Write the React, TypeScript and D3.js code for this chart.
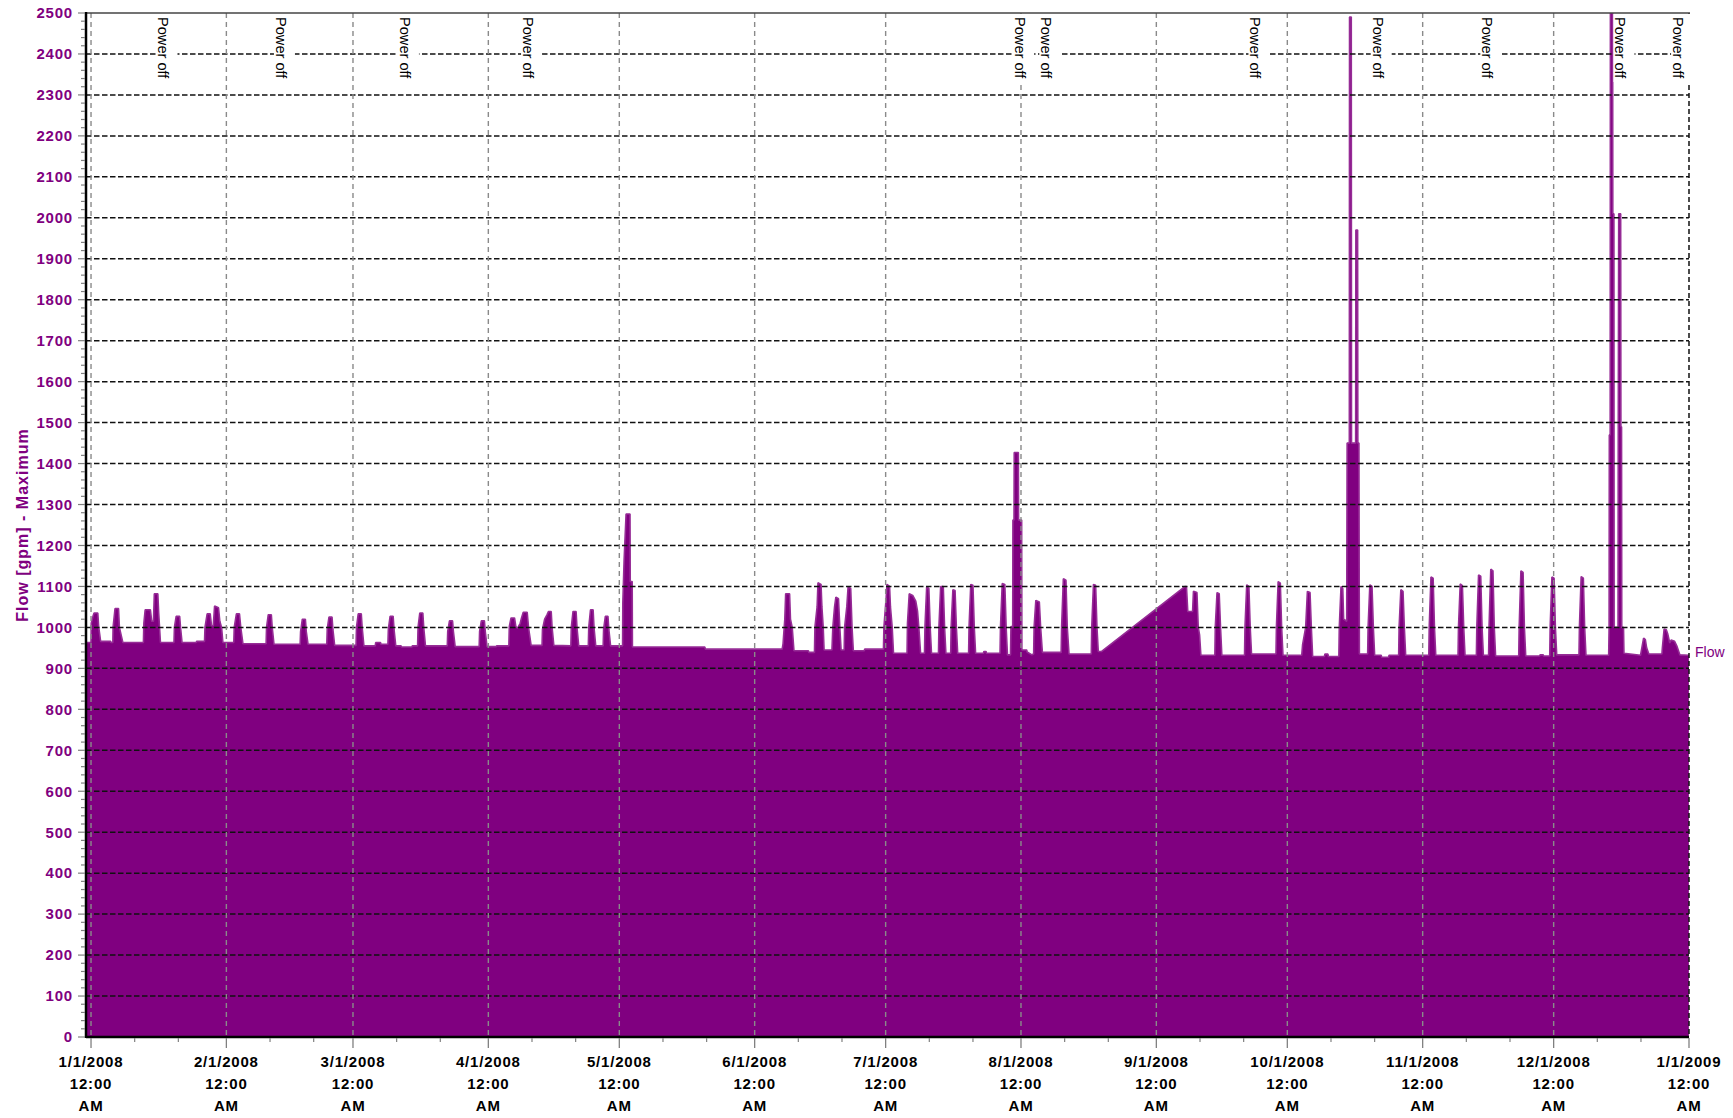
import React from "react";
import * as d3 from "d3";

// Flow [gpm] max, as [day since 1/1/2008, value]
const janFlow: [number, number][] = [
  [-1.15, 963], [0.0, 963], [0.05, 1010], [0.45, 1027], [0.7, 1035], [1.55, 1035], [1.75, 1002], [2.2, 966],
  [4.5, 966], [4.55, 963], [5.0, 963], [5.05, 1000], [5.5, 1046], [6.3, 1046], [6.5, 1000], [7.3, 963],
  [12.0, 963], [12.1, 1010], [12.4, 1043], [13.6, 1043], [13.9, 1015], [14.3, 1015], [14.5, 1082], [15.3, 1082], [15.5, 1035], [15.9, 963],
  [19.0, 963], [19.1, 1000], [19.5, 1027], [20.3, 1027], [20.5, 1000], [20.85, 963],
  [24.1, 963], [24.2, 966], [26.0, 966], [26.1, 1000], [26.6, 1033], [27.3, 1033], [27.6, 1004], [28.0, 1004],
  [28.3, 1052], [29.2, 1048], [29.5, 1015], [29.9, 1000], [30.2, 963],
];
const febFlow: [number, number][] = [
  [32.7, 963], [32.8, 1000], [33.3, 1033], [34.0, 1033], [34.3, 1000], [34.8, 960],
  [40.1, 960], [40.2, 1000], [40.6, 1031], [41.3, 1031], [41.5, 1000], [41.9, 959],
  [47.9, 959], [48.0, 990], [48.4, 1020], [49.1, 1020], [49.3, 990], [49.7, 959],
  [54.0, 959], [54.1, 995], [54.5, 1025], [55.2, 1025], [55.4, 995], [55.8, 956],
];
const marFlow: [number, number][] = [
  [60.7, 956], [60.8, 1000], [61.2, 1033], [61.9, 1033], [62.1, 1000], [62.5, 955],
  [65.1, 955], [65.2, 963], [66.3, 963], [66.4, 959],
  [68.0, 959], [68.1, 995], [68.5, 1027], [69.2, 1027], [69.4, 995], [69.8, 955],
  [71.0, 955], [71.1, 952], [73.5, 952], [73.6, 955],
  [74.8, 955], [74.9, 1000], [75.3, 1035], [76.0, 1035], [76.2, 1000], [76.6, 955],
  [81.6, 955], [81.7, 990], [82.1, 1016], [82.8, 1016], [83.0, 990], [83.4, 953],
  [88.9, 953], [89.0, 990], [89.4, 1016], [90.1, 1016], [90.3, 990], [90.7, 953],
];
const aprFlow: [number, number][] = [
  [92.8, 953], [92.9, 955],
  [95.7, 955], [95.8, 1002], [96.2, 1023], [97.0, 1023], [97.3, 1002], [97.7, 998], [98.3, 1010], [98.6, 1023],
  [99.0, 1037], [99.9, 1037], [100.2, 1000], [100.8, 956],
  [103.3, 956], [103.4, 995], [103.9, 1020], [104.4, 1030], [104.8, 1039], [105.4, 1039], [105.6, 1000], [106.0, 956],
  [109.9, 955], [110.0, 1000], [110.4, 1039], [111.1, 1039], [111.3, 1000], [111.7, 955],
  [113.9, 955], [114.0, 1000], [114.4, 1043], [115.0, 1043], [115.2, 1000], [115.6, 955],
  [117.3, 955], [117.4, 995], [117.8, 1027], [118.4, 1027], [118.6, 995], [119.0, 955],
];
const mayFlow: [number, number][] = [
  [121.75, 955], [121.8, 1059], [122.1, 1165], [122.55, 1277], [123.45, 1277], [123.5, 1112], [123.95, 1112], [124.0, 952],
  [140.6, 952], [140.7, 947], [158.3, 947],
];
const junFlow: [number, number][] = [
  [158.5, 960], [158.9, 1020], [159.1, 1082], [160.0, 1082], [160.2, 1020], [160.6, 1000], [161.0, 943],
  [164.3, 943], [164.4, 939], [165.7, 939], [165.8, 1000], [166.3, 1050], [166.5, 1109], [167.2, 1105], [167.4, 1050], [167.7, 1000], [167.9, 945],
  [169.7, 945], [169.9, 1000], [170.3, 1050], [170.6, 1074], [171.2, 1070], [171.5, 1000], [171.8, 945],
  [172.5, 945], [172.6, 1000], [173.1, 1050], [173.4, 1099], [174.0, 1095], [174.3, 1000], [174.6, 943],
  [177.1, 943], [177.2, 947], [181.5, 947],
];
const julFlow: [number, number][] = [
  [181.6, 1000], [182.1, 1070], [182.3, 1105], [182.9, 1100], [183.1, 1050], [183.5, 1000], [183.8, 937],
  [186.9, 937], [187.0, 1010], [187.4, 1082], [188.2, 1078], [188.9, 1064], [189.3, 1040], [189.6, 1000], [190.0, 937],
  [190.9, 937], [191.0, 1000], [191.4, 1099], [191.9, 1095], [192.2, 1000], [192.5, 937],
  [194.1, 937], [194.2, 1000], [194.6, 1100], [195.2, 1100], [195.5, 1000], [195.8, 937],
  [196.9, 937], [197.0, 1000], [197.4, 1092], [197.9, 1090], [198.2, 1000], [198.5, 937],
  [201.0, 937], [201.1, 1000], [201.5, 1105], [202.0, 1103], [202.3, 1000], [202.6, 937],
  [204.4, 937], [204.5, 941], [205.0, 941], [205.1, 937],
  [208.2, 937], [208.3, 1000], [208.7, 1107], [209.3, 1105], [209.6, 1000], [209.9, 933],
  [210.6, 933], [210.7, 1002], [211.1, 1002], [211.15, 1262], [211.4, 1262], [211.45, 1427], [212.4, 1427],
  [212.45, 1262], [213.15, 1262], [213.2, 945],
];
const augFlow: [number, number][] = [
  [214.3, 945], [214.4, 940], [215.5, 933],
  [215.9, 935], [216.0, 1000], [216.4, 1066], [217.2, 1062], [217.5, 1000], [217.9, 939],
  [222.2, 939], [222.3, 1000], [222.7, 1119], [223.3, 1115], [223.6, 1000], [224.0, 935],
  [229.1, 935], [229.2, 1000], [229.6, 1105], [230.1, 1103], [230.4, 1000], [230.7, 941],
  [231.4, 941], [250.6, 1100],
];
const sepFlow: [number, number][] = [
  [250.9, 1100], [251.2, 1039], [252.3, 1039], [252.5, 1088], [253.3, 1085], [253.6, 1000], [253.9, 982], [254.2, 932],
  [257.4, 932], [257.5, 1000], [257.9, 1085], [258.4, 1082], [258.7, 1000], [259.0, 932],
  [264.2, 932], [264.3, 1000], [264.7, 1104], [265.2, 1100], [265.5, 1000], [265.8, 935],
  [271.4, 935], [271.5, 1000], [271.9, 1112], [272.4, 1108], [272.7, 1000], [273.0, 932],
];
const octFlow: [number, number][] = [
  [277.3, 932], [277.5, 958], [278.2, 1000], [278.6, 1088], [279.2, 1085], [279.5, 1000], [279.8, 929],
  [282.5, 929], [282.6, 935], [283.3, 935], [283.4, 929],
  [285.8, 929], [285.9, 1000], [286.3, 1100], [286.7, 1095], [286.9, 1020], [287.6, 1015],
  [287.7, 1450], [288.2, 1450], [288.25, 2490], [288.65, 2490], [288.7, 1450], [289.65, 1450], [289.7, 1970],
  [290.1, 1970], [290.15, 1450], [290.4, 1450], [290.5, 935],
  [292.4, 935], [292.5, 1000], [292.9, 1104], [293.4, 1100], [293.7, 1000], [294.0, 932],
  [295.5, 932], [295.6, 927], [297.2, 927], [297.3, 932],
  [299.5, 932], [299.6, 1000], [300.0, 1092], [300.5, 1088], [300.8, 1000], [301.1, 932],
];
const novFlow: [number, number][] = [
  [306.4, 932], [306.5, 1000], [306.9, 1123], [307.4, 1120], [307.7, 1000], [308.0, 932],
  [313.1, 932], [313.2, 1000], [313.6, 1106], [314.1, 1102], [314.4, 1000], [314.7, 932],
  [317.3, 932], [317.4, 1000], [317.8, 1128], [318.3, 1125], [318.6, 1000], [318.9, 932],
  [320.1, 932], [320.2, 1000], [320.6, 1142], [321.1, 1138], [321.4, 1000], [321.7, 930],
  [327.0, 930], [327.1, 1000], [327.5, 1138], [328.0, 1134], [328.3, 1000], [328.6, 930],
  [331.8, 930], [331.9, 933], [332.6, 933], [332.7, 930],
];
const decFlow: [number, number][] = [
  [334.1, 930], [334.2, 1000], [334.6, 1123], [335.1, 1120], [335.4, 1000], [335.7, 933],
  [340.8, 933], [340.9, 1000], [341.3, 1124], [341.8, 1120], [342.1, 1000], [342.4, 932],
  [347.6, 932], [347.7, 1000], [347.75, 1470], [347.95, 1470], [348.0, 2600], [348.5, 2600], [348.55, 2010],
  [348.8, 2010], [348.85, 1000], [349.75, 1000], [349.8, 1490], [349.9, 2010], [350.35, 2010], [350.4, 1490],
  [350.55, 1490], [350.6, 1000], [351.0, 1000], [351.1, 937],
  [354.9, 932], [355.2, 950], [355.6, 974], [356.0, 970], [356.3, 950], [356.8, 935],
  [359.8, 935], [359.9, 950], [360.3, 996], [360.8, 994], [361.1, 985], [361.6, 962], [361.9, 969],
  [362.7, 966], [363.2, 955], [363.9, 933], [366.0, 932],
];

// "Power off" annotations, day since 1/1/2008
const powerOffDays = [16.6, 43.5, 71.9, 100.1, 212.8, 218.8, 266.7, 294.7, 319.8, 350.3, 363.5];

const yTickValues = d3.range(0, 2501, 100);
const yMinorValues = d3.range(0, 2501, 20);

const W = 1733;
const H = 1118;
const LEFT = 86;
const RIGHT = 1689;
const TOP = 13;
const BOTTOM = 1037;
const PURPLE = "#800080";
const FONT = '"Liberation Sans", Arial, Helvetica, sans-serif';

const t0 = new Date(2008, 0, 1).getTime();
const toDate = (d: number) => new Date(t0 + d * 864e5);

export default function App() {
  const flow = [
    ...janFlow, ...febFlow, ...marFlow, ...aprFlow, ...mayFlow, ...junFlow,
    ...julFlow, ...augFlow, ...sepFlow, ...octFlow, ...novFlow, ...decFlow,
  ];

  const x = d3.scaleTime().domain([toDate(-1.15), new Date(2009, 0, 1)]).range([LEFT, RIGHT]);
  const y = d3.scaleLinear().domain([0, 2500]).range([BOTTOM, TOP]);

  const area = d3
    .area<[number, number]>()
    .x((d) => x(toDate(d[0])))
    .y0(y(0))
    .y1((d) => y(d[1]));

  const months = d3.timeMonth.range(new Date(2008, 0, 1), new Date(2009, 0, 2));
  const minorDays = d3.timeMonth
    .range(new Date(2008, 0, 1), new Date(2009, 0, 1))
    .flatMap((m) => [d3.timeDay.offset(m, 10), d3.timeDay.offset(m, 20)]);
  const fmtDate = d3.timeFormat("%-m/%-d/%Y");
  const lastVal = flow[flow.length - 1][1];

  return (
    <svg
      width={W}
      height={H}
      style={{ position: "absolute", left: 0, top: 0, background: "#fff" }}
      fontFamily={FONT}
    >
      <defs>
        <clipPath id="plot">
          <rect x={LEFT} y={TOP} width={RIGHT - LEFT} height={BOTTOM - TOP} />
        </clipPath>
      </defs>

      <path
        d={area(flow) ?? ""}
        fill={PURPLE}
        stroke="#962c96"
        strokeWidth={1.6}
        strokeLinejoin="bevel"
        clipPath="url(#plot)"
      />

      {/* horizontal grid */}
      {yTickValues
        .filter((v) => v > 0 && v < 2500)
        .map((v) => (
          <line
            key={"h" + v}
            x1={LEFT}
            x2={RIGHT}
            y1={y(v)}
            y2={y(v)}
            stroke="#111"
            strokeWidth={1.5}
            strokeDasharray="5.5 2.5"
          />
        ))}

      {/* vertical grid */}
      {months.slice(0, -1).map((m) => (
        <line
          key={"v" + m.getTime()}
          x1={x(m)}
          x2={x(m)}
          y1={TOP}
          y2={BOTTOM}
          stroke="#8a8a8a"
          strokeWidth={1.4}
          strokeDasharray="5 4"
        />
      ))}
      <line x1={RIGHT} x2={RIGHT} y1={TOP} y2={BOTTOM} stroke="#111" strokeWidth={1.5} strokeDasharray="5 3" />

      {/* power off notes */}
      {powerOffDays.map((d, i) => {
        const cx = x(toDate(d));
        return (
          <g key={"p" + i}>
            <rect x={cx - 7} y={TOP + 1} width={21} height={68} fill="#fff" />
            <text
              transform={`translate(${cx - 5},17) rotate(90)`}
              fontSize={14.6}
              fill="#000"
            >
              Power off
            </text>
          </g>
        );
      })}

      {/* frame */}
      <line x1={LEFT} x2={RIGHT + 1} y1={TOP} y2={TOP} stroke="#444" strokeWidth={1.5} />
      <line x1={LEFT} x2={LEFT} y1={TOP - 1} y2={BOTTOM + 1} stroke="#000" strokeWidth={2.5} />
      <line x1={LEFT} x2={RIGHT} y1={BOTTOM} y2={BOTTOM} stroke="#000" strokeWidth={2.5} />

      {/* y axis */}
      {yMinorValues.map((v) => (
        <line
          key={"ym" + v}
          x1={v % 100 === 0 ? 78 : 81}
          x2={LEFT - 1}
          y1={y(v)}
          y2={y(v)}
          stroke="#808080"
          strokeWidth={1.2}
        />
      ))}
      {yTickValues.map((v) => (
        <text
          key={"yl" + v}
          x={73}
          y={y(v) + 5.3}
          textAnchor="end"
          fontSize={15}
          fontWeight="bold"
          letterSpacing={0.8}
          fill={PURPLE}
        >
          {v}
        </text>
      ))}
      <text
        transform="translate(28,525) rotate(-90)"
        textAnchor="middle"
        fontSize={16}
        fontWeight="bold"
        letterSpacing={1}
        fill={PURPLE}
      >
        Flow [gpm] - Maximum
      </text>

      {/* x axis */}
      {minorDays.map((m) => (
        <line
          key={"xm" + m.getTime()}
          x1={x(m)}
          x2={x(m)}
          y1={BOTTOM + 1}
          y2={BOTTOM + 5}
          stroke="#808080"
          strokeWidth={1.2}
        />
      ))}
      {months.map((m) => (
        <g key={"xl" + m.getTime()}>
          <line x1={x(m)} x2={x(m)} y1={BOTTOM + 1} y2={BOTTOM + 11} stroke="#808080" strokeWidth={1.3} />
          <text
            x={x(m)}
            textAnchor="middle"
            fontSize={15}
            fontWeight="bold"
            letterSpacing={0.8}
            fill="#000"
          >
            <tspan x={x(m)} y={1066.5}>{fmtDate(m)}</tspan>
            <tspan x={x(m)} y={1089}>12:00</tspan>
            <tspan x={x(m)} y={1111}>AM</tspan>
          </text>
        </g>
      ))}

      {/* series label */}
      <text x={RIGHT + 6} y={y(lastVal) + 2} fontSize={14} fill={PURPLE}>
        Flow
      </text>
    </svg>
  );
}
